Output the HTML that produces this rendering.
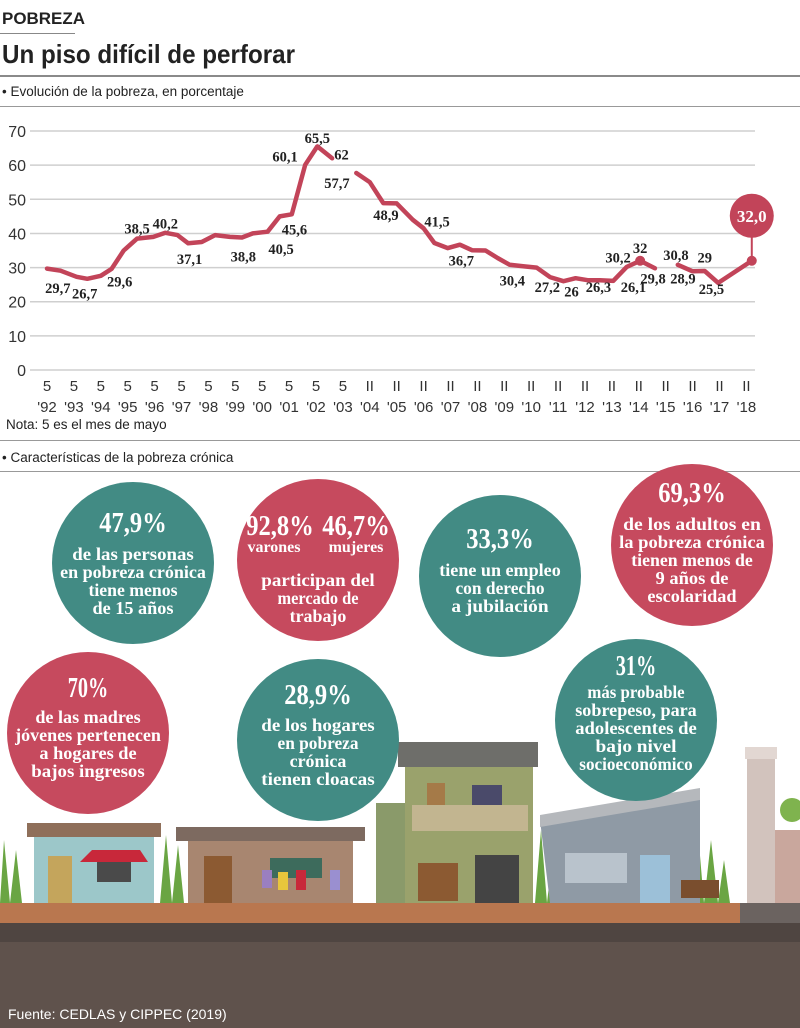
<!DOCTYPE html>
<html><head><meta charset="utf-8">
<style>
html,body{margin:0;padding:0;background:#fff;}
body{width:800px;height:1028px;position:relative;overflow:hidden;font-family:"Liberation Sans",sans-serif;}
svg{position:absolute;left:0;top:0;}
.st{font-family:"Liberation Serif",serif;font-weight:bold;fill:#fff;}
</style></head>
<body>
<svg id="svg" width="800" height="1028" viewBox="0 0 800 1028">
  <text x="2" y="24" font-size="17" font-weight="bold" fill="#222" textLength="83" lengthAdjust="spacingAndGlyphs">POBREZA</text>
  <rect x="0" y="33" width="75" height="1" fill="#888"/>
  <text x="2" y="63" font-size="26" font-weight="bold" fill="#222" textLength="293" lengthAdjust="spacingAndGlyphs">Un piso difícil de perforar</text>
  <rect x="0" y="75" width="800" height="2" fill="#8a8a8a"/>
  <text x="2" y="96" font-size="13.5" fill="#222">• Evolución de la pobreza, en porcentaje</text>
  <rect x="0" y="106" width="800" height="1" fill="#999"/>
  <g id="chart"></g>
  <text x="6" y="429" font-size="13.5" fill="#222">Nota: 5 es el mes de mayo</text>
  <rect x="0" y="440" width="800" height="1" fill="#999"/>
  <text x="2" y="462" font-size="13.5" fill="#222">• Características de la pobreza crónica</text>
  <rect x="0" y="471" width="800" height="1" fill="#999"/>

  <g>
    <rect x="0" y="922" width="800" height="106" fill="#5f524c"/>
    <rect x="0" y="922" width="800" height="20" fill="#4f4541"/>
    <rect x="0" y="903" width="740" height="20" fill="#b9774f"/>
    <rect x="740" y="903" width="60" height="20" fill="#6b6360"/>
    <g fill="#6aa543">
      <polygon points="0,903 4,840 10,903 16,850 22,903"/>
      <polygon points="160,903 166,835 172,903 178,845 184,903"/>
      <polygon points="535,903 541,830 547,903 553,850 560,903"/>
      <polygon points="690,903 697,820 704,903 711,840 718,903 724,860 730,903"/>
      <polygon points="775,903 780,860 786,903 792,850 800,903"/>
    </g>
    <rect x="775" y="830" width="25" height="73" fill="#c9a79d"/>
    <circle cx="792" cy="810" r="12" fill="#7fb34e"/>
    <g>
      <rect x="34" y="835" width="120" height="68" fill="#9cc7c9"/>
      <rect x="27" y="823" width="134" height="14" fill="#8f6f5a"/>
      <rect x="48" y="856" width="24" height="47" fill="#c4a55c"/>
      <polygon points="80,862 92,850 140,850 148,862" fill="#c8283a"/>
      <rect x="97" y="862" width="34" height="20" fill="#4a4a4a"/>
    </g>
    <g>
      <rect x="188" y="838" width="165" height="65" fill="#a88670"/>
      <rect x="176" y="827" width="189" height="14" fill="#7d6a60"/>
      <rect x="204" y="856" width="28" height="47" fill="#8c5a32"/>
      <rect x="270" y="858" width="52" height="20" fill="#3d6b5c"/>
      <rect x="262" y="870" width="10" height="18" fill="#9a7fc0"/>
      <rect x="278" y="872" width="10" height="18" fill="#e8c63c"/>
      <rect x="296" y="870" width="10" height="20" fill="#c8283a"/>
      <rect x="330" y="870" width="10" height="20" fill="#9a8fd0"/>
    </g>
    <g>
      <rect x="376" y="803" width="30" height="100" fill="#8a9a6a"/>
      <rect x="405" y="765" width="128" height="138" fill="#9aa26c"/>
      <rect x="398" y="742" width="140" height="25" fill="#6e6e6a"/>
      <rect x="412" y="805" width="116" height="26" fill="#c2b590"/>
      <rect x="427" y="783" width="18" height="22" fill="#a57a48"/>
      <rect x="472" y="785" width="30" height="20" fill="#4a4a6a"/>
      <rect x="418" y="863" width="40" height="38" fill="#8c5a32"/>
      <rect x="475" y="855" width="44" height="48" fill="#444"/>
    </g>
    <g>
      <polygon points="540,820 700,794 700,903 550,903" fill="#8f9aa5"/>
      <polygon points="540,815 700,788 700,800 540,827" fill="#b5b8bc"/>
      <rect x="565" y="853" width="62" height="30" fill="#b9c3cc"/>
      <rect x="640" y="855" width="30" height="48" fill="#9cc0d8"/>
      <rect x="681" y="880" width="38" height="18" fill="#7a4e2e"/>
    </g>
    <rect x="747" y="747" width="28" height="156" fill="#d2c3bd"/>
    <rect x="745" y="747" width="32" height="12" fill="#e2d7d2"/>
  </g>

  <g id="stats"></g>

  <text x="8" y="1019" font-size="14" fill="#fff">Fuente: CEDLAS y CIPPEC (2019)</text>
</svg>
<script>
// ---- chart data ----
const yTicks = [0,10,20,30,40,50,60,70];
const xYears = [1992,1993,1994,1995,1996,1997,1998,1999,2000,2001,2002,2003,2004,2005,2006,2007,2008,2009,2010,2011,2012,2013,2014,2015,2016,2017,2018];
const xMonthLabels = ["5","5","5","5","5","5","5","5","5","5","5","5","II","II","II","II","II","II","II","II","II","II","II","II","II","II","II"];
const xYearLabels = ["'92","'93","'94","'95","'96","'97","'98","'99","'00","'01","'02","'03","'04","'05","'06","'07","'08","'09","'10","'11","'12","'13","'14","'15","'16","'17","'18"];
const seg1Times = [1992.0,1992.5,1993.1,1993.5,1994.0,1994.4,1994.85,1995.35,1995.95,1996.4,1996.85,1997.25,1997.75,1998.25,1998.8,1999.25,1999.65,2000.2,2000.65,2001.1,2001.6,2002.05,2002.6];
const seg1Values = [29.7,29.1,27.3,26.7,27.6,29.6,35,38.5,39,40.2,39.5,37.1,37.5,39.5,39,38.8,40,40.5,45,45.6,60.1,65.5,62];
const seg2Times = [2003.5,2004.0,2004.5,2005.0,2005.6,2006.0,2006.4,2006.9,2007.35,2007.8,2008.3,2008.75,2009.2,2009.7,2010.2,2010.7,2011.2,2011.65,2012.1,2012.55,2013.05,2013.55,2014.05,2014.6];
const seg2Values = [57.7,55,48.9,48.8,44,41.5,37.2,35.7,36.7,35.1,35,32.8,30.8,30.4,30,27.2,26,26.9,26.3,26.3,26.1,30.2,32,29.8];
const seg3Times = [2015.45,2016.0,2016.45,2016.95,2018.2];
const seg3Values = [30.8,28.9,29,25.5,32.0];
const labelTimes = [1992.4,1993.4,1994.7,1995.35,1996.4,1997.3,1999.3,2000.7,2001.2,2000.85,2002.05,2002.95,2002.78,2004.6,2006.5,2007.4,2009.3,2010.6,2011.5,2012.5,2013.8,2013.23,2014.05,2014.53,2015.38,2015.64,2016.45,2016.7];
const labelValues = ["29,7","26,7","29,6","38,5","40,2","37,1","38,8","40,5","45,6","60,1","65,5","62","57,7","48,9","41,5","36,7","30,4","27,2","26","26,3","26,1","30,2","32","29,8","30,8","28,9","29","25,5"];
const labelLevels = [22.5,21,24.5,40,41.5,31,31.8,34,39.7,61,66.5,61.7,53.3,44,42,30.6,24.8,22.9,21.5,22.9,22.9,31.5,34.3,25.4,32.2,25.4,31.5,22.2];
const highlightValue = "32,0";

const NS = "http://www.w3.org/2000/svg";
const chart = document.getElementById('chart');
const X0 = 47, XSTEP = 26.9, Y0 = 370, YSTEP = 3.414;
function xs(t){ return X0 + (t - 1992) * XSTEP; }
function ys(v){ return Y0 - v * YSTEP; }
function mk(tag, attrs, parent){ const e=document.createElementNS(NS,tag); for(const k in attrs) e.setAttribute(k,attrs[k]); (parent||chart).appendChild(e); return e; }

yTicks.forEach(function(v){
  const g = mk('line',{x1:30,x2:755,y1:ys(v),y2:ys(v),stroke:'#cfcfcf','stroke-width':1.5});
  
  
  const t = mk('text',{x:26,y:ys(v)+6,'font-size':16,fill:'#333','text-anchor':'end'});
  t.textContent = v;
  
  
});
xYears.forEach(function(yr,i){
  const t1 = mk('text',{x:xs(yr),y:391,'font-size':15,fill:'#333','text-anchor':'middle'});
  t1.textContent = xMonthLabels[i];
  
  
  const t2 = mk('text',{x:xs(yr),y:412,'font-size':15,fill:'#333','text-anchor':'middle'});
  t2.textContent = xYearLabels[i];
  
  
});
[[seg1Times,seg1Values],[seg2Times,seg2Values],[seg3Times,seg3Values]].forEach(function(s){
  const d = s[0].map(function(t,i){ return (i?'L':'M')+xs(t).toFixed(1)+','+ys(s[1][i]).toFixed(1); }).join(' ');
  const p = mk('path',{d:d,fill:'none',stroke:'#c24459','stroke-width':4.5,'stroke-linejoin':'round','stroke-linecap':'round'});
  
  
});
labelTimes.forEach(function(t,i){
  const tx = mk('text',{x:xs(t),y:ys(labelLevels[i]),'font-size':14.5,'font-weight':'bold','font-family':'Liberation Serif, serif',fill:'#222','text-anchor':'middle'});
  tx.textContent = labelValues[i];
  
  
});
const pk = mk('circle',{cx:xs(seg2Times[22]),cy:ys(seg2Values[22]),r:5,fill:'#c24459'});


const lt = seg3Times[seg3Times.length-1], lv = seg3Values[seg3Values.length-1];
const hl = mk('line',{x1:xs(lt),x2:xs(lt),y1:ys(lv),y2:ys(lv)-45,stroke:'#c24459','stroke-width':2});


const hd = mk('circle',{cx:xs(lt),cy:ys(lv),r:5,fill:'#c24459'});


const hc = mk('circle',{cx:xs(lt),cy:ys(lv)-45,r:22,fill:'#c24459'});


const ht = mk('text',{x:xs(lt),y:ys(lv)-39,'font-size':17,'font-weight':'bold','font-family':'Liberation Serif, serif',fill:'#fff','text-anchor':'middle'});
ht.textContent = highlightValue;



// ---- stat bubbles ----
const stats = document.getElementById('stats');
const bubbles = [
 {cx:133,cy:563,c:'#428b84',big:[['47,9%',0]],bigY:532,lines:['de las personas','en pobreza crónica','tiene menos','de 15 años'],ly:560,n:'stat-under-15'},
 {cx:318,cy:560,c:'#c64a5e',big:[['92,8%',-38],['46,7%',38]],bigY:535,subs:[['varones',-44],['mujeres',38]],lines:['participan del','mercado de','trabajo'],ly:586,n:'stat-labor-participation'},
 {cx:500,cy:576,c:'#428b84',big:[['33,3%',0]],bigY:548,lines:['tiene un empleo','con derecho','a jubilación'],ly:576,n:'stat-pension-job'},
 {cx:692,cy:545,c:'#c64a5e',big:[['69,3%',0]],bigY:502,lines:['de los adultos en','la pobreza crónica','tienen menos de','9 años de','escolaridad'],ly:530,n:'stat-schooling'},
 {cx:88,cy:733,c:'#c64a5e',big:[['70%',0]],bigY:697,lines:['de las madres','jóvenes pertenecen','a hogares de','bajos ingresos'],ly:723,n:'stat-young-mothers'},
 {cx:318,cy:740,c:'#428b84',big:[['28,9%',0]],bigY:704,lines:['de los hogares','en pobreza','crónica','tienen cloacas'],ly:731,n:'stat-sewage'},
 {cx:636,cy:720,c:'#428b84',big:[['31%',0]],bigY:675,lines:['más probable','sobrepeso, para','adolescentes de','bajo nivel','socioeconómico'],ly:698,n:'stat-overweight'}
];
bubbles.forEach(function(b){
  const g = document.createElementNS(NS,'g');
  
  
  stats.appendChild(g);
  const c = mk('circle',{cx:b.cx,cy:b.cy,r:81,fill:b.c},g);
  
  
  b.big.forEach(function(p){
    const t = mk('text',{x:b.cx+p[1],y:b.bigY,'font-size':29,'text-anchor':'middle','class':'st','textLength':(p[0].length*13.5),'lengthAdjust':'spacingAndGlyphs'},g);
    t.textContent = p[0];
    
    
  });
  (b.subs||[]).forEach(function(p){
    const t = mk('text',{x:b.cx+p[1],y:b.bigY+17,'font-size':16,'text-anchor':'middle','class':'st'},g);
    t.textContent = p[0];
    
    
  });
  b.lines.forEach(function(l,i){
    const t = mk('text',{x:b.cx,y:b.ly+i*18,'font-size':18,'text-anchor':'middle','class':'st','textLength':(l.length*8.1),'lengthAdjust':'spacingAndGlyphs'},g);
    t.textContent = l;
    
    
  });
});
</script>
</body></html>
